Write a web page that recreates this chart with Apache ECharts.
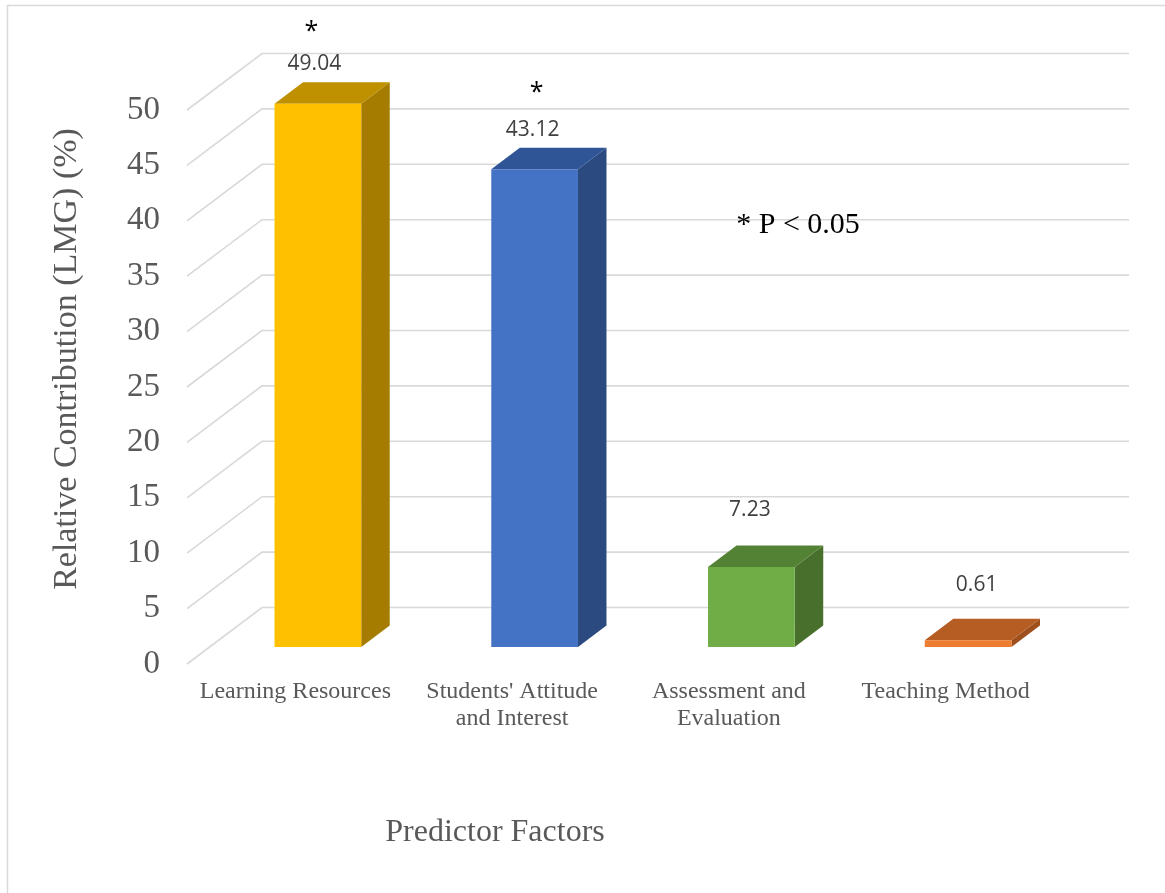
<!DOCTYPE html>
<html>
<head>
<meta charset="utf-8">
<title>Relative Contribution of Predictor Factors</title>
<script src="https://cdn.jsdelivr.net/npm/echarts@6/dist/echarts.min.js"></script>
<style>
  html, body { margin: 0; padding: 0; background: #ffffff; }
  #chart { width: 1165px; height: 893px; }
</style>
</head>
<body>
<div id="chart"></div>
<script>
// ---- data ----
const categories = [
  "Learning Resources",
  "Students' Attitude\nand Interest",
  "Assessment and\nEvaluation",
  "Teaching Method"
];
const contribution = [49.04, 43.12, 7.23, 0.61];
const significant = [true, true, false, false];
const yTicks = [0, 5, 10, 15, 20, 25, 30, 35, 40, 45, 50];

// ---- look ----
const faceColors = [
  { front: '#FFC000', top: '#BF9000', side: '#A67C00' },
  { front: '#4472C4', top: '#2F5597', side: '#2A4A80' },
  { front: '#70AD47', top: '#548235', side: '#486F2B' },
  { front: '#ED7D31', top: '#B55D22', side: '#9E4F1C' }
];
// depth vector from the front edge of the floor to the back wall
const DX = 75, DY = -56.5;
const FRONT_SHIFT = 0.30;   // bar front face sits this far into the depth
const BAR_DEPTH = 0.38;     // bar depth as a share of the full depth
const BAR_WIDTH = 0.40;     // bar width as a share of the category band
// value label placement relative to the top-centre of the bar front face
const labelDx = [-3.5, -2, -1.5, 8.5];
const labelLift = [40, 39, 57, 55];
const starDx = [-3, 4, 0, 0];
const starLift = [32, 37, 0, 0];

const serif = '"Liberation Serif", "Times New Roman", serif';
const sans = '"Open Sans", "Liberation Sans", sans-serif';

const chart = echarts.init(document.getElementById('chart'), null, { renderer: 'canvas' });

function renderGrid(params, api) {
  const cs = params.coordSys;
  const y = api.coord([0, api.value(1)])[1];
  const x0 = cs.x;
  return {
    type: 'polyline',
    silent: true,
    shape: { points: [[x0, y], [x0 + DX, y + DY], [cs.x + cs.width + DX, y + DY]] },
    style: { stroke: '#D9D9D9', lineWidth: 1.6, fill: null }
  };
}

function renderBar(params, api) {
  const i = api.value(0);
  const v = api.value(1);
  const base = api.coord([i, 0]);
  const top = api.coord([i, v]);
  const band = api.size([1, 0])[0];
  const w = band * BAR_WIDTH;
  const fx = FRONT_SHIFT * DX, fy = FRONT_SHIFT * DY;
  const cx = base[0] + fx;
  const left = cx - w / 2, right = cx + w / 2;
  const bottom = base[1] + fy;
  const yTop = top[1] + fy;
  const ddx = BAR_DEPTH * DX, ddy = BAR_DEPTH * DY;
  const c = faceColors[i];
  const children = [
    {
      type: 'polygon',
      shape: { points: [[right, bottom], [right, yTop], [right + ddx, yTop + ddy], [right + ddx, bottom + ddy]] },
      style: { fill: c.side }
    },
    {
      type: 'polygon',
      shape: { points: [[left, yTop], [right, yTop], [right + ddx, yTop + ddy], [left + ddx, yTop + ddy]] },
      style: { fill: c.top }
    },
    {
      type: 'rect',
      shape: { x: left, y: yTop, width: w, height: bottom - yTop },
      style: { fill: c.front }
    },
    {
      type: 'text',
      x: cx + labelDx[i],
      y: yTop - labelLift[i],
      style: {
        text: v.toFixed(2),
        fill: '#404040',
        font: '21px ' + sans,
        align: 'center',
        verticalAlign: 'middle'
      }
    }
  ];
  if (significant[i]) {
    children.push({
      type: 'text',
      x: cx + labelDx[i] + starDx[i],
      y: yTop - labelLift[i] - starLift[i],
      style: {
        text: '*',
        fill: '#000000',
        font: '25px ' + sans,
        align: 'center',
        verticalAlign: 'middle'
      }
    });
  }
  return { type: 'group', children: children };
}

const option = {
  backgroundColor: '#ffffff',
  animation: false,
  grid: { left: 187, right: 111, top: 110, bottom: 229, containLabel: false },
  xAxis: {
    type: 'category',
    data: categories,
    axisLine: { show: false },
    axisTick: { show: false },
    splitLine: { show: false },
    axisLabel: {
      interval: 0,
      margin: 14,
      color: '#595959',
      fontFamily: serif,
      fontSize: 24,
      lineHeight: 27
    }
  },
  yAxis: {
    type: 'value',
    min: 0,
    max: 50,
    interval: 5,
    axisLine: { show: false },
    axisTick: { show: false },
    splitLine: { show: false },
    axisLabel: {
      margin: 27,
      color: '#595959',
      fontFamily: serif,
      fontSize: 33
    }
  },
  graphic: [
    {
      type: 'rect',
      silent: true,
      shape: { x: 7.5, y: 5.5, width: 1200, height: 1000 },
      style: { fill: null, stroke: '#D9D9D9', lineWidth: 1.5 },
      z: -10
    },
    {
      type: 'text',
      x: 67, y: 359,
      rotation: Math.PI / 2,
      style: {
        text: 'Relative Contribution (LMG) (%)',
        fill: '#595959',
        font: '34px ' + serif,
        align: 'center',
        verticalAlign: 'middle'
      }
    },
    {
      type: 'text',
      x: 495, y: 833,
      style: {
        text: 'Predictor Factors',
        fill: '#595959',
        font: '32px ' + serif,
        align: 'center',
        verticalAlign: 'middle'
      }
    },
    {
      type: 'text',
      x: 798, y: 225,
      z: 100,
      style: {
        text: '* P < 0.05',
        fill: '#000000',
        font: '30px ' + serif,
        align: 'center',
        verticalAlign: 'middle'
      }
    }
  ],
  series: [
    {
      type: 'custom',
      name: 'grid lines',
      silent: true,
      z: 1,
      renderItem: renderGrid,
      encode: { x: 0, y: 1 },
      data: yTicks.map(function (t) { return [0, t]; })
    },
    {
      type: 'custom',
      name: 'Relative Contribution',
      z: 5,
      renderItem: renderBar,
      encode: { x: 0, y: 1 },
      data: contribution.map(function (v, i) { return [i, v]; })
    }
  ]
};

chart.setOption(option);
</script>
</body>
</html>
